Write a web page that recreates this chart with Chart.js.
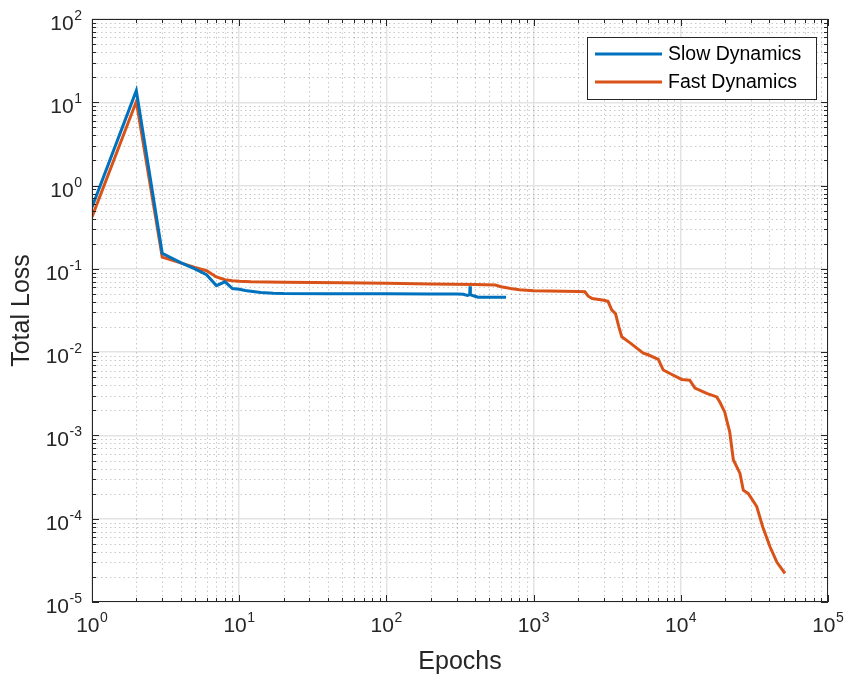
<!DOCTYPE html>
<html><head><meta charset="utf-8">
<script src="https://cdn.jsdelivr.net/npm/chart.js@4.4.1/dist/chart.umd.min.js"></script>
<style>html,body{margin:0;padding:0;background:#fff}#wrap{width:851px;height:683px}</style>
</head><body><div id="wrap"><canvas id="c" width="851" height="683"></canvas></div>
<script>
const seriesNames = ['Slow Dynamics', 'Fast Dynamics'];

const slowEpochs = [1, 2, 3, 4, 5, 6, 7, 8, 9, 10, 11, 12, 14, 17, 20, 40, 100, 200, 300, 333, 355, 368, 370, 372, 390, 420, 500, 650];
const slowLoss   = [0.55, 13.8, 0.154, 0.119, 0.1, 0.085, 0.063, 0.07, 0.058, 0.057, 0.055, 0.054, 0.052, 0.051, 0.0505, 0.0503, 0.0502, 0.05, 0.05, 0.0495, 0.048, 0.049, 0.0617, 0.049, 0.0475, 0.0456, 0.0456, 0.0456];

const fastEpochs = [1, 2, 3, 4, 5, 6, 7, 8, 9, 10, 12, 20, 50, 100, 200, 400, 550, 600, 700, 800, 1000, 2000, 2230, 2350, 2500, 3000, 3200, 3400, 3600, 3800, 3970, 4500, 5560, 6000, 7033, 7600, 8500, 10140, 11500, 12480, 15000, 17540, 18450, 19900, 20500, 21500, 22740, 25240, 26580, 28760, 32800, 36000, 40370, 45000, 51000];
const fastLoss   = [0.42, 10.2, 0.138, 0.118, 0.104, 0.095, 0.08, 0.074, 0.072, 0.071, 0.07, 0.069, 0.068, 0.067, 0.066, 0.065, 0.064, 0.061, 0.058, 0.056, 0.0545, 0.0536, 0.053, 0.047, 0.044, 0.042, 0.0407, 0.032, 0.029, 0.02, 0.0153, 0.013, 0.0097, 0.0093, 0.0082, 0.0061, 0.0055, 0.0047, 0.0046, 0.0037, 0.0032, 0.0029, 0.0025, 0.0019, 0.00153, 0.0011, 0.00051, 0.00035, 0.00022, 0.0002, 0.00014, 0.00008, 0.000046, 0.00003, 0.000022];

const xTickValues = [1, 10, 100, 1000, 10000, 100000];
const xTickLabels = ['10^{0}', '10^{1}', '10^{2}', '10^{3}', '10^{4}', '10^{5}'];
const yTickValues = [1e-5, 1e-4, 1e-3, 1e-2, 1e-1, 1, 10, 100];
const yTickLabels = ['10^{-5}', '10^{-4}', '10^{-3}', '10^{-2}', '10^{-1}', '10^{0}', '10^{1}', '10^{2}'];

const seriesColors = ['#0072BD', '#D95319'];
const axisColor = '#262626';
const FONT = "'Liberation Sans', Arial, Helvetica, sans-serif";

function toPts(xs, ys) { return xs.map((x, i) => ({ x: x, y: ys[i] })); }

function minorValues(min, max) {
  const out = [];
  for (let d = min; d < max; d *= 10) {
    for (let m = 2; m <= 9; m++) out.push(d * m);
  }
  return out;
}

function splitTex(s) {
  const m = /^(.*)\^\{(.*)\}$/.exec(s);
  return m ? [m[1], m[2]] : [s, ''];
}

const matlabAxes = {
  id: 'matlabAxes',
  beforeDatasetsDraw(chart) {
    const ctx = chart.ctx, a = chart.chartArea;
    const xs = chart.scales.x, ys = chart.scales.y;
    ctx.save();
    ctx.strokeStyle = 'rgba(38,38,38,0.25)';
    ctx.lineWidth = 1;
    ctx.setLineDash([1.5, 3]);
    minorValues(1, 1e5).forEach(v => {
      const px = Math.round(xs.getPixelForValue(v)) + 0.5;
      ctx.beginPath(); ctx.moveTo(px, a.top); ctx.lineTo(px, a.bottom); ctx.stroke();
    });
    minorValues(1e-5, 1e2).forEach(v => {
      const py = Math.round(ys.getPixelForValue(v)) + 0.5;
      ctx.beginPath(); ctx.moveTo(a.left, py); ctx.lineTo(a.right, py); ctx.stroke();
    });
    ctx.restore();
  },
  afterDatasetsDraw(chart) {
    const ctx = chart.ctx, a = chart.chartArea;
    const xs = chart.scales.x, ys = chart.scales.y;
    ctx.save();
    ctx.strokeStyle = axisColor;
    ctx.lineWidth = 1;
    ctx.strokeRect(a.left + 0.5, a.top + 0.5, a.right - a.left - 1, a.bottom - a.top - 1);
    const tickx = (vals, len) => {
      vals.forEach(v => {
        const px = Math.round(xs.getPixelForValue(v)) + 0.5;
        ctx.beginPath();
        ctx.moveTo(px, a.bottom); ctx.lineTo(px, a.bottom - len);
        ctx.moveTo(px, a.top); ctx.lineTo(px, a.top + len);
        ctx.stroke();
      });
    };
    const ticky = (vals, len) => {
      vals.forEach(v => {
        const py = Math.round(ys.getPixelForValue(v)) + 0.5;
        ctx.beginPath();
        ctx.moveTo(a.left, py); ctx.lineTo(a.left + len, py);
        ctx.moveTo(a.right, py); ctx.lineTo(a.right - len, py);
        ctx.stroke();
      });
    };
    tickx(xTickValues, 7); tickx(minorValues(1, 1e5), 4);
    ticky(yTickValues, 7); ticky(minorValues(1e-5, 1e2), 4);

    // tick labels (MATLAB TeX style 10^{n})
    const baseFont = '21px ' + FONT, supFont = '14px ' + FONT;
    ctx.fillStyle = axisColor;
    ctx.textBaseline = 'alphabetic';
    ctx.textAlign = 'left';
    const drawLabel = (txt, xLeft, baseY) => {
      const [b, e] = splitTex(txt);
      ctx.font = baseFont; ctx.fillText(b, xLeft, baseY);
      const wb = ctx.measureText(b).width;
      ctx.font = supFont; ctx.fillText(e, xLeft + wb + 0.5, baseY - 10);
    };
    const labelWidth = (txt) => {
      const [b, e] = splitTex(txt);
      ctx.font = baseFont; const wb = ctx.measureText(b).width;
      ctx.font = supFont; const we = ctx.measureText(e).width;
      return wb + 0.5 + we;
    };
    yTickValues.forEach((v, i) => {
      const py = ys.getPixelForValue(v);
      const w = labelWidth(yTickLabels[i]);
      drawLabel(yTickLabels[i], a.left - 10 - w, py + 11);
    });
    xTickValues.forEach((v, i) => {
      const px = xs.getPixelForValue(v);
      const w = labelWidth(xTickLabels[i]);
      drawLabel(xTickLabels[i], px - w / 2, a.bottom + 30);
    });
    ctx.restore();
  },
  afterDraw(chart) {
    const ctx = chart.ctx;
    const bx = 587, by = 37, bw = 229, bh = 62;
    ctx.save();
    ctx.fillStyle = '#ffffff';
    ctx.fillRect(bx, by, bw, bh);
    ctx.strokeStyle = axisColor;
    ctx.lineWidth = 1;
    ctx.strokeRect(bx + 0.5, by + 0.5, bw, bh);
    ctx.font = '19.5px ' + FONT;
    ctx.textBaseline = 'middle';
    ctx.fillStyle = '#000';
    chart.data.datasets.forEach((ds, i) => {
      const y = by + 17 + i * 28;
      ctx.strokeStyle = ds.borderColor;
      ctx.lineWidth = 3;
      ctx.beginPath(); ctx.moveTo(595, y); ctx.lineTo(662, y); ctx.stroke();
      ctx.fillText(ds.label, 668, y + 1);
    });
    ctx.restore();
  }
};

new Chart(document.getElementById('c'), {
  type: 'line',
  data: {
    datasets: [
      { label: seriesNames[0], data: toPts(slowEpochs, slowLoss), borderColor: seriesColors[0], backgroundColor: seriesColors[0], borderWidth: 3, pointRadius: 0, tension: 0, fill: false },
      { label: seriesNames[1], data: toPts(fastEpochs, fastLoss), borderColor: seriesColors[1], backgroundColor: seriesColors[1], borderWidth: 3, pointRadius: 0, tension: 0, fill: false }
    ]
  },
  options: {
    responsive: false,
    animation: false,
    devicePixelRatio: 1,
    layout: { padding: { top: 19, right: 23, left: 0, bottom: 0 } },
    plugins: { legend: { display: false }, tooltip: { enabled: false } },
    scales: {
      x: {
        type: 'logarithmic', min: 1, max: 100000,
        afterBuildTicks: s => { s.ticks = xTickValues.map(v => ({ value: v })); },
        afterFit: s => { s.height = 81; },
        ticks: { display: false },
        grid: { color: '#e3e3e3', lineWidth: 1.5, drawTicks: false },
        border: { display: false },
        title: { display: true, text: 'Epochs', font: { size: 25, family: FONT }, color: axisColor, padding: { top: 0, bottom: 6 } }
      },
      y: {
        type: 'logarithmic', min: 1e-5, max: 100,
        afterBuildTicks: s => { s.ticks = yTickValues.map(v => ({ value: v })); },
        afterFit: s => { s.width = 92; },
        ticks: { display: false },
        grid: { color: '#e3e3e3', lineWidth: 1.5, drawTicks: false },
        border: { display: false },
        title: { display: true, text: 'Total Loss', font: { size: 25, family: FONT }, color: axisColor, padding: { top: 7, bottom: 0 } }
      }
    }
  },
  plugins: [matlabAxes]
});
</script>
</body></html>
